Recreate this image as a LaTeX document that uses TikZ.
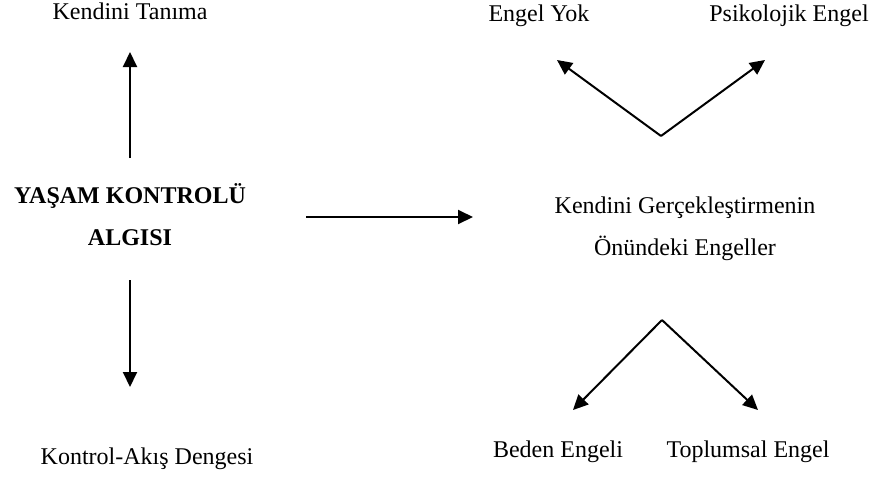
\documentclass[tikz,border=0pt]{standalone}
\usepackage{fontspec}
\setmainfont{Liberation Serif}
\usetikzlibrary{positioning,arrows.meta}

\begin{document}
\begin{tikzpicture}[
        x=1pt, y=-1pt,
        txt/.style={anchor=base, inner sep=0pt, align=center, font=\fontsize{24}{42}\selectfont},
        bold/.style={txt, font=\fontsize{24}{42}\selectfont\bfseries},
        arr/.style={line width=2pt, -{Triangle[length=15pt, width=14pt]}}
      ]
      \useasboundingbox (0,0) rectangle (879,477);

      % base of a two-line node is the baseline of its last line
      \node (KT) [txt] at (130,19) {Kendini Tanıma};
      \node (YKA) [bold] at (130,245) {YAŞAM KONTROLÜ\\ALGISI};
      \node (KAD) [txt] at (147,464) {Kontrol-Akış Dengesi};
      \node (KGE) [txt] at (685,255) {Kendini Gerçekleştirmenin\\Önündeki Engeller};
      \node (EY) [txt] at (539,21) {Engel Yok};
      \node (PE) [txt] at (789,21) {Psikolojik Engel};
      \node (BE) [txt] at (558,457) {Beden Engeli};
      \node (TE) [txt] at (748,457) {Toplumsal Engel};

      \coordinate (upS) at (130,158);
      \coordinate (upE) at (130,52);
      \coordinate (dnS) at (130,280);
      \coordinate (dnE) at (130,387);
      \coordinate (rtS) at (306,217);
      \coordinate (rtE) at (473,217);
      \coordinate (topV) at (661,136);
      \coordinate (topL) at (557,60);
      \coordinate (topR) at (765,60);
      \coordinate (botV) at (662,320);
      \coordinate (botL) at (573,410);
      \coordinate (botR) at (758,410);

      \draw[arr] (upS) -- (upE);
      \draw[arr] (dnS) -- (dnE);
      \draw[arr] (rtS) -- (rtE);
      \draw[arr] (topV) -- (topL);
      \draw[arr] (topV) -- (topR);
      \draw[arr] (botV) -- (botL);
      \draw[arr] (botV) -- (botR);

    \end{tikzpicture}
\end{document}
